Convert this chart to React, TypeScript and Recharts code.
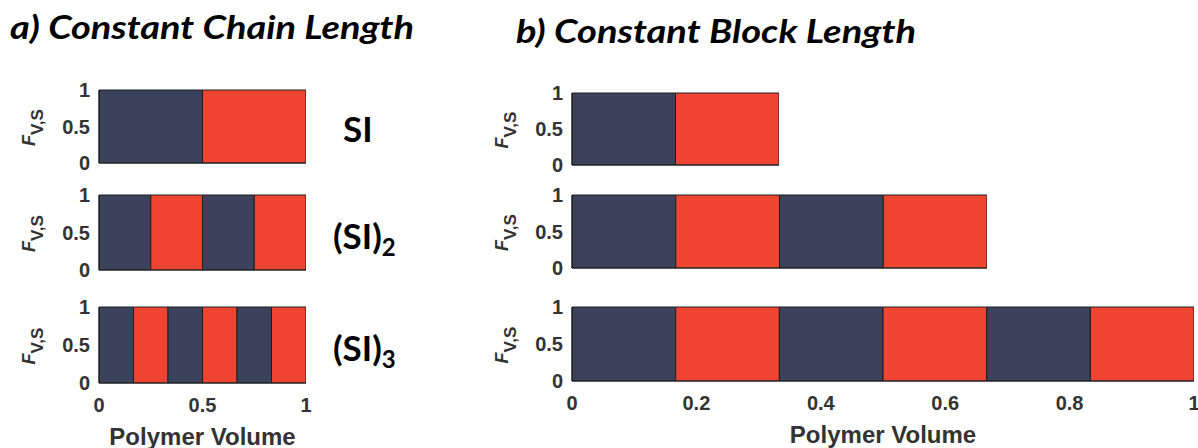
import { ComposedChart, Area, XAxis, YAxis } from "recharts";

const NAVY = "#3a435b";
const RED = "#f04433";
const INK = "#333333";
const SANS = "'Liberation Sans', Arial, sans-serif";
const TITLE_FONT = "Lato, 'Open Sans', sans-serif";

// length (volume fraction) of each block along the chain, S and I alternating
const chainSI = [0.5, 0.5];
const chainSI2 = [0.25, 0.25, 0.25, 0.25];
const chainSI3 = [0.1667, 0.1667, 0.1667, 0.1667, 0.1666, 0.1666];

const blockSI = [0.1667, 0.1667];
const blockSI2 = [0.1667, 0.1667, 0.1667, 0.1666];
const blockSI3 = [0.1667, 0.1667, 0.1667, 0.1667, 0.1666, 0.1666];

const architectures = ["SI", "(SI)2", "(SI)3"];
const fTicks = [0, 0.5, 1];
const chainTicks = [0, 0.5, 1];
const blockTicks = [0, 0.2, 0.4, 0.6, 0.8, 1];
const blockDomains = [0.3334, 0.6667, 1];

const Y_W = 95;

const XTick = (props: any) => {
  const { x, y, payload } = props;
  return (
    <text x={x} y={y} dy="0.71em" textAnchor="middle" fontFamily={SANS} fontWeight={700} fontSize={20} fill={INK}>
      {payload.value}
    </text>
  );
};

const YTick = (props: any) => {
  const { x, y, payload } = props;
  return (
    <text x={x} y={y} dy="0.355em" textAnchor="end" fontFamily={SANS} fontWeight={700} fontSize={20} fill={INK}>
      {payload.value}
    </text>
  );
};

const FLabel = (props: any) => {
  const vb = props.viewBox || {};
  const cx = vb.x + Y_W - 64;
  const cy = vb.y + vb.height / 2 + 1;
  return (
    <text
      x={cx}
      y={cy}
      transform={`rotate(-90 ${cx} ${cy})`}
      textAnchor="middle"
      fill={INK}
      fontFamily={SANS}
      fontWeight={700}
    >
      <tspan fontSize={18} fontStyle="italic">F</tspan>
      <tspan fontSize={17} dy={8}>V,S</tspan>
    </text>
  );
};

const VolumeLabel = (props: any) => {
  const vb = props.viewBox || {};
  return (
    <text
      x={vb.x + vb.width / 2}
      y={vb.y + 62}
      textAnchor="middle"
      fontFamily={SANS}
      fontWeight={700}
      fontSize={24}
      fill={INK}
    >
      Polymer Volume
    </text>
  );
};

type PanelProps = {
  blocks: number[];
  left: number;
  top: number;
  plotW: number;
  plotH: number;
  xMax: number;
  xTicks?: number[];
};

const Panel = ({ blocks, left, top, plotW, plotH, xMax, xTicks }: PanelProps) => {
  // each block becomes a filled step from its start to its end at F = 1
  let start = 0;
  const segments = blocks.map((len, i) => {
    const end = start + len;
    const pts = [
      { x: start, f: 0 },
      { x: start, f: 1 },
      { x: end, f: 1 },
      { x: end, f: 0 },
    ];
    start = end;
    return { pts, fill: i % 2 === 0 ? NAVY : RED };
  });
  const mt = 12;
  const mr = 14;
  const mb = 14;
  const xH = xTicks ? 68 : 1;
  return (
    <div style={{ position: "absolute", left: left - Y_W, top: top - mt }}>
      <ComposedChart
        width={Y_W + plotW + mr}
        height={mt + plotH + xH + mb}
        margin={{ top: mt, right: mr, bottom: mb, left: 0 }}
      >
        <XAxis
          type="number"
          dataKey="x"
          domain={[0, xMax]}
          ticks={xTicks ?? []}
          tick={xTicks ? <XTick /> : false}
          tickLine={false}
          tickSize={6}
          tickMargin={9}
          axisLine={{ stroke: "#222", strokeWidth: 1.5 }}
          height={xH}
          label={xTicks ? <VolumeLabel /> : undefined}
          allowDataOverflow
        />
        <YAxis
          type="number"
          domain={[0, 1]}
          ticks={fTicks}
          width={Y_W}
          tick={<YTick />}
          tickLine={false}
          tickSize={0}
          tickMargin={9}
          axisLine={{ stroke: "#222", strokeWidth: 1.5 }}
          label={<FLabel />}
        />
        {segments.map((s, i) => (
          <Area
            key={i}
            data={s.pts}
            dataKey="f"
            type="linear"
            baseValue={0}
            fill={s.fill}
            fillOpacity={1}
            stroke="#1e1e1e"
            strokeWidth={1}
            dot={false}
            activeDot={false}
            isAnimationActive={false}
          />
        ))}
      </ComposedChart>
    </div>
  );
};

const ArchLabel = ({ text, x, y }: { text: string; x: number; y: number }) => {
  const sub = text.match(/\)(\d)$/);
  return (
    <text x={x} y={y} fontFamily={TITLE_FONT} fontWeight={700} fontSize={35} fill="#000">
      {sub ? text.slice(0, -1) : text}
      {sub && (
        <tspan fontSize={24} dy={7}>
          {sub[1]}
        </tspan>
      )}
    </text>
  );
};

const App = () => {
  const chainSets = [chainSI, chainSI2, chainSI3];
  const blockSets = [blockSI, blockSI2, blockSI3];
  const leftTops = [90, 195, 307];
  const leftH = [73, 75, 76];
  const rightTops = [93, 195, 307];
  const rightH = [72, 73, 74];
  const labelX = [343, 333, 333];
  const labelY = [142, 249, 361];
  return (
    <div style={{ position: "absolute", left: 0, top: 0, width: 1198, height: 448, background: "#fff" }}>
      {chainSets.map((b, i) => (
        <Panel
          key={`a${i}`}
          blocks={b}
          left={99}
          top={leftTops[i]}
          plotW={207}
          plotH={leftH[i]}
          xMax={1}
          xTicks={i === 2 ? chainTicks : undefined}
        />
      ))}
      {blockSets.map((b, i) => (
        <Panel
          key={`b${i}`}
          blocks={b}
          left={572}
          top={rightTops[i]}
          plotW={Math.round(622 * blockDomains[i])}
          plotH={rightH[i]}
          xMax={blockDomains[i]}
          xTicks={i === 2 ? blockTicks : undefined}
        />
      ))}
      <svg width={1198} height={448} style={{ position: "absolute", left: 0, top: 0, pointerEvents: "none" }}>
        <text
          x={10}
          y={39}
          fontFamily={TITLE_FONT}
          fontWeight={700}
          fontStyle="italic"
          fontSize={33}
          fill="#000"
          textLength={404}
          lengthAdjust="spacingAndGlyphs"
        >
          a) Constant Chain Length
        </text>
        <text
          x={516}
          y={43}
          fontFamily={TITLE_FONT}
          fontWeight={700}
          fontStyle="italic"
          fontSize={33}
          fill="#000"
          textLength={400}
          lengthAdjust="spacingAndGlyphs"
        >
          b) Constant Block Length
        </text>
        {architectures.map((a, i) => (
          <ArchLabel key={a} text={a} x={labelX[i]} y={labelY[i]} />
        ))}
      </svg>
    </div>
  );
};

export default App;
